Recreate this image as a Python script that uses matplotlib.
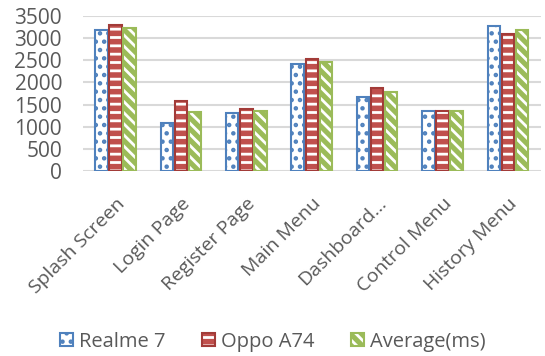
import numpy as np
import matplotlib
matplotlib.use("Agg")
from matplotlib import pyplot as plt

plt.rcParams["font.family"] = ["Open Sans", "DejaVu Sans"]
plt.rcParams["hatch.linewidth"] = 2.0

# ----------------------------------------------------------------------------
# Data — load time per screen [ms]
# ----------------------------------------------------------------------------
screens = ["Splash Screen", "Login Page", "Register Page", "Main Menu",
           "Dashboard...", "Control Menu", "History Menu"]
realme_7 = [3180, 1080, 1300, 2410, 1680, 1350, 3280]
oppo_a74 = [3300, 1590, 1400, 2530, 1870, 1350, 3100]
average  = [3240, 1335, 1350, 2470, 1775, 1350, 3190]

series_names = ["Realme 7", "Oppo A74", "Average(ms)"]

# fill, hatch colour, hatch, outline
BLUE  = ("white",   "#4F81BD", "..", "#4F81BD")
RED   = ("#C0504D", "white",   "--", "#A23B38")
GREEN = ("#9BBB59", "white",   "\\\\\\", "#9BBB59")
TEXT  = "#595959"

fig = plt.figure(figsize=(5.45, 3.56), dpi=100)
ax = fig.add_axes([0.152, 0.52, 0.84, 0.435])

x = np.arange(len(screens))
width = 0.19
step = 0.215

handles = []
for i, (vals, style) in enumerate(zip([realme_7, oppo_a74, average], [BLUE, RED, GREEN])):
    face, hcol, hatch, edge = style
    pos = x + (i - 1) * step
    ax.bar(pos, vals, width, color=face, edgecolor=hcol, hatch=hatch,
           linewidth=0, zorder=3)
    ax.bar(pos, vals, width, fill=False, edgecolor=edge, linewidth=1.5, zorder=4)
    h1 = plt.Rectangle((0, 0), 1, 1, facecolor=face, edgecolor=hcol, hatch=hatch, linewidth=0)
    h2 = plt.Rectangle((0, 0), 1, 1, fill=False, edgecolor=edge, linewidth=1.5)
    handles.append((h1, h2))

ax.set_xlim(-0.5, len(screens) - 0.5)
ax.set_ylim(0, 3500)
ax.set_yticks(np.arange(0, 3501, 500))
ax.yaxis.grid(True, color="#D9D9D9", linewidth=1.5, zorder=0)
ax.set_axisbelow(True)
for s in ax.spines.values():
    s.set_visible(False)

ax.tick_params(axis="y", length=0, pad=15, labelsize=15, labelcolor=TEXT)
ax.tick_params(axis="x", length=0, pad=17, labelsize=14, labelcolor=TEXT)
ax.set_xticks(x)
ax.set_xticklabels(screens, rotation=45, ha="right", va="top",
                   rotation_mode="anchor")

fig.legend(handles, series_names, loc="center", bbox_to_anchor=(0.5, 0.04),
           ncol=3, frameon=False, fontsize=14.5, labelcolor=TEXT,
           handlelength=0.65, handleheight=0.65, handletextpad=0.3,
           columnspacing=1.8)

fig.savefig("out.png", dpi=100)
